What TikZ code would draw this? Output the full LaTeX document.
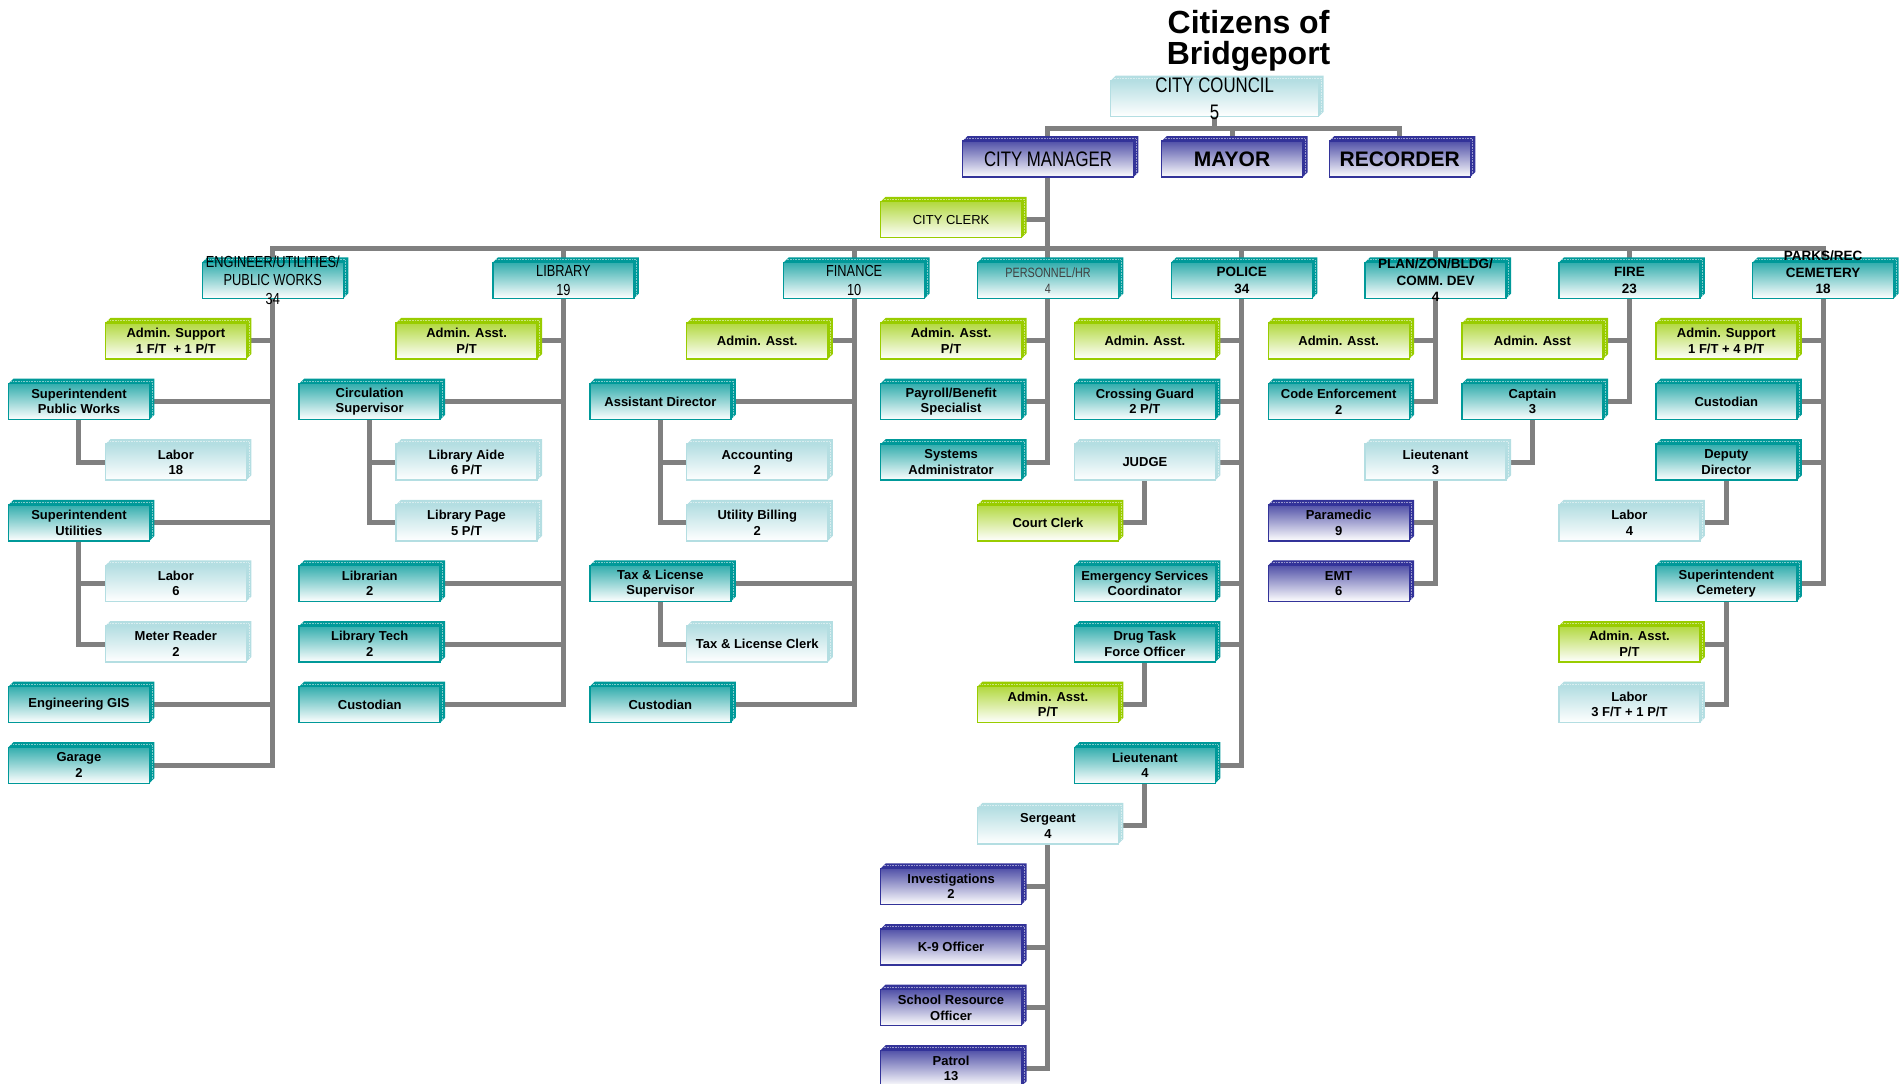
\documentclass[tikz,border=0pt]{standalone}
\usepackage{fontspec}
\setmainfont{Liberation Sans}
\newfontfamily\narrowfont{Liberation Sans}[FakeStretch=0.8]
\usetikzlibrary{backgrounds}

\definecolor{tealC}{RGB}{0,153,153}
\definecolor{greenC}{RGB}{153,204,0}
\definecolor{paleC}{RGB}{180,222,226}
\definecolor{indigoC}{RGB}{51,51,153}
\definecolor{linkC}{RGB}{128,128,128}

% text that may run out of its box
\newcommand\spill[2]{\smash{\raisebox{#1}{\begin{tabular}{@{}c@{}}#2\end{tabular}}}}

\tikzset{
  orgbox/.style 2 args={draw=#1, line width=1.4pt, top color=#2, bottom color=white,
    minimum width=141pt, minimum height=36pt, inner sep=0pt, outer sep=0pt, align=center,
    font=\fontsize{13}{15.5}\selectfont\bfseries,
    append after command={\pgfextra{\pgfinterruptpath
      \fill[#1] (\tikzlastnode.north west) -- ++(5pt,5pt)
        -- ([shift={(5pt,5pt)}]\tikzlastnode.north east)
        -- ([shift={(5pt,5pt)}]\tikzlastnode.south east)
        -- (\tikzlastnode.south east) -- (\tikzlastnode.north east) -- cycle;
      \draw[white, opacity=.5, line width=.8pt, dash pattern=on .8pt off .8pt]
        ([shift={(3pt,2.6pt)}]\tikzlastnode.north west)
        -- ([shift={(2.6pt,2.6pt)}]\tikzlastnode.north east)
        -- ([shift={(2.6pt,3pt)}]\tikzlastnode.south east);
      \endpgfinterruptpath}}},
  tealbox/.style={orgbox={tealC}{tealC!80}},
  greenbox/.style={orgbox={greenC}{greenC!75}},
  palebox/.style={orgbox={paleC}{paleC}},
  bluebox/.style={orgbox={indigoC}{indigoC!85}},
  dept/.style={font=\fontsize{13.5}{16.4}\selectfont\bfseries},
  deptn/.style={font=\narrowfont\fontsize{16}{19}\selectfont},
  heading/.style={font=\fontsize{32}{31}\selectfont\bfseries, align=center, inner sep=0pt},
  link/.style={draw=linkC, line width=5pt},
}

\begin{document}
\begin{tikzpicture}[x=96.9pt,y=-60.6pt]
  \useasboundingbox (-0.815,-5.627) rectangle (18.834,12.26);

  % top of the chart
  \node[heading] (heading) at (12.07,-4.95) {Citizens of\\Bridgeport};
  \node[palebox, minimum width=208pt, font=\narrowfont\fontsize{21}{27}\selectfont] (council) at (11.72,-4)
    {\spill{-7pt}{CITY COUNCIL\\5}};
  \node[bluebox, minimum width=171pt, font=\narrowfont\fontsize{21}{25}\selectfont] (manager) at (10,-3) {CITY MANAGER};
  \node[bluebox, font=\fontsize{21}{25}\selectfont\bfseries] (mayor) at (11.9,-3) {MAYOR};
  \node[bluebox, font=\fontsize{21}{25}\selectfont\bfseries] (recorder) at (13.63,-3) {RECORDER};
  \node[greenbox, font=\fontsize{13}{15.5}\selectfont] (clerk) at (9,-2) {CITY CLERK};
  \coordinate (cbar) at (11.72,-3.5);
  \coordinate (mbar) at (10,-1.52);

  % departments
  \node[tealbox, font=\narrowfont\fontsize{16}{18.5}\selectfont] (eng) at (2,-1)
    {\spill{-6pt}{ENGINEER/UTILITIES/\\PUBLIC WORKS\\34}};
  \node[tealbox, deptn] (lib) at (5,-1) {LIBRARY\\19};
  \node[tealbox, deptn] (fin) at (8,-1) {FINANCE\\10};
  \node[tealbox, font=\narrowfont\fontsize{13.5}{16}\selectfont, text=black!75] (hr) at (10,-1) {PERSONNEL/HR\\4};
  \node[tealbox, dept] (pol) at (12,-1) {POLICE\\34};
  \node[tealbox, dept] (plan) at (14,-1) {\spill{-5pt}{PLAN/ZON/BLDG/\\COMM. DEV\\4}};
  \node[tealbox, dept] (fire) at (16,-1) {FIRE\\23};
  \node[tealbox, dept] (parks) at (18,-1) {\spill{3pt}{PARKS/REC\\CEMETERY\\18}};

  % engineer / utilities / public works
  \node[greenbox] (engA) at (1,0) {Admin. Support\\1 F/T\ \ + 1 P/T};
  \node[tealbox] (engSP) at (0,1) {Superintendent\\Public Works};
  \node[palebox] (engL1) at (1,2) {Labor\\18};
  \node[tealbox] (engSU) at (0,3) {Superintendent\\Utilities};
  \node[palebox] (engL2) at (1,4) {Labor\\6};
  \node[palebox] (engMR) at (1,5) {Meter Reader\\2};
  \node[tealbox] (engGIS) at (0,6) {Engineering GIS};
  \node[tealbox] (engG) at (0,7) {Garage\\2};

  % library
  \node[greenbox] (libA) at (4,0) {Admin. Asst.\\P/T};
  \node[tealbox] (libCS) at (3,1) {Circulation\\Supervisor};
  \node[palebox] (libAide) at (4,2) {Library Aide\\6 P/T};
  \node[palebox] (libPage) at (4,3) {Library Page\\5 P/T};
  \node[tealbox] (libLn) at (3,4) {Librarian\\2};
  \node[tealbox] (libTech) at (3,5) {Library Tech\\2};
  \node[tealbox] (libC) at (3,6) {Custodian};

  % finance
  \node[greenbox] (finA) at (7,0) {Admin. Asst.};
  \node[tealbox] (finAD) at (6,1) {Assistant Director};
  \node[palebox] (finAcc) at (7,2) {Accounting\\2};
  \node[palebox] (finUB) at (7,3) {Utility Billing\\2};
  \node[tealbox] (finTLS) at (6,4) {Tax \& License\\Supervisor};
  \node[palebox] (finTLC) at (7,5) {Tax \& License Clerk};
  \node[tealbox] (finC) at (6,6) {Custodian};

  % personnel
  \node[greenbox] (hrA) at (9,0) {Admin. Asst.\\P/T};
  \node[tealbox] (hrPB) at (9,1) {Payroll/Benefit\\Specialist};
  \node[tealbox] (hrSA) at (9,2) {Systems\\Administrator};

  % police
  \node[greenbox] (polA) at (11,0) {Admin. Asst.};
  \node[tealbox] (polCG) at (11,1) {Crossing Guard\\2 P/T};
  \node[palebox] (polJ) at (11,2) {JUDGE};
  \node[greenbox] (polCC) at (10,3) {Court Clerk};
  \node[tealbox] (polES) at (11,4) {Emergency Services\\Coordinator};
  \node[tealbox] (polDT) at (11,5) {Drug Task\\Force Officer};
  \node[greenbox] (polDA) at (10,6) {Admin. Asst.\\P/T};
  \node[tealbox] (polLt) at (11,7) {Lieutenant\\4};
  \node[palebox] (polSg) at (10,8) {Sergeant\\4};
  \node[bluebox] (polInv) at (9,9) {Investigations\\2};
  \node[bluebox] (polK9) at (9,10) {K-9 Officer};
  \node[bluebox] (polSRO) at (9,11) {School Resource\\Officer};
  \node[bluebox] (polPat) at (9,12) {Patrol\\13};

  % planning
  \node[greenbox] (planA) at (13,0) {Admin. Asst.};
  \node[tealbox] (planCE) at (13,1) {Code Enforcement\\2};

  % fire
  \node[greenbox] (fireA) at (15,0) {Admin. Asst};
  \node[tealbox] (fireCap) at (15,1) {Captain\\3};
  \node[palebox] (fireLt) at (14,2) {Lieutenant\\3};
  \node[bluebox] (firePM) at (13,3) {Paramedic\\9};
  \node[bluebox] (fireEMT) at (13,4) {EMT\\6};

  % parks / rec / cemetery
  \node[greenbox] (parkA) at (17,0) {Admin. Support\\1 F/T + 4 P/T};
  \node[tealbox] (parkC) at (17,1) {Custodian};
  \node[tealbox] (parkDD) at (17,2) {Deputy\\Director};
  \node[palebox] (parkL4) at (16,3) {Labor\\4};
  \node[tealbox] (parkSC) at (17,4) {Superintendent\\Cemetery};
  \node[greenbox] (parkAA) at (16,5) {Admin. Asst.\\P/T};
  \node[palebox] (parkL) at (16,6) {Labor\\3 F/T + 1 P/T};

  % connectors
  \begin{pgfonlayer}{background}
    \draw[link] (council.south) -- (cbar);
    \foreach \n in {manager,mayor,recorder} \draw[link] (cbar) -| (\n.north);
    \draw[link] (manager.south) -- (mbar);
    \draw[link] (manager.south) |- (clerk.east);
    \foreach \n in {eng,lib,fin,hr,pol,plan,fire,parks} \draw[link] (mbar) -| (\n.north);

    \foreach \n in {engA,engSP,engSU,engGIS,engG} \draw[link] (eng.south) |- (\n.east);
    \draw[link] (engSP.south) |- (engL1.west);
    \foreach \n in {engL2,engMR} \draw[link] (engSU.south) |- (\n.west);

    \foreach \n in {libA,libCS,libLn,libTech,libC} \draw[link] (lib.south) |- (\n.east);
    \foreach \n in {libAide,libPage} \draw[link] (libCS.south) |- (\n.west);

    \foreach \n in {finA,finAD,finTLS,finC} \draw[link] (fin.south) |- (\n.east);
    \foreach \n in {finAcc,finUB} \draw[link] (finAD.south) |- (\n.west);
    \draw[link] (finTLS.south) |- (finTLC.west);

    \foreach \n in {hrA,hrPB,hrSA} \draw[link] (hr.south) |- (\n.east);

    \foreach \n in {polA,polCG,polJ,polES,polDT,polLt} \draw[link] (pol.south) |- (\n.east);
    \draw[link] (polJ.south) |- (polCC.east);
    \draw[link] (polDT.south) |- (polDA.east);
    \draw[link] (polLt.south) |- (polSg.east);
    \foreach \n in {polInv,polK9,polSRO,polPat} \draw[link] (polSg.south) |- (\n.east);

    \foreach \n in {planA,planCE} \draw[link] (plan.south) |- (\n.east);

    \foreach \n in {fireA,fireCap} \draw[link] (fire.south) |- (\n.east);
    \draw[link] (fireCap.south) |- (fireLt.east);
    \foreach \n in {firePM,fireEMT} \draw[link] (fireLt.south) |- (\n.east);

    \foreach \n in {parkA,parkC,parkDD,parkSC} \draw[link] (parks.south) |- (\n.east);
    \draw[link] (parkDD.south) |- (parkL4.east);
    \foreach \n in {parkAA,parkL} \draw[link] (parkSC.south) |- (\n.east);
  \end{pgfonlayer}
\end{tikzpicture}
\end{document}
